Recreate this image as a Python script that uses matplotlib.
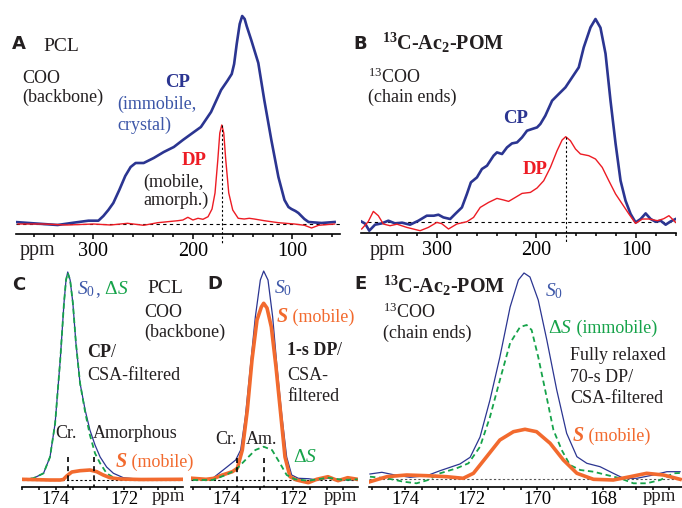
import numpy as np
import matplotlib.pyplot as plt
from matplotlib.ticker import MultipleLocator

plt.rcParams['font.family'] = ['Liberation Serif', 'DejaVu Serif']
plt.rcParams['mathtext.fontset'] = 'custom'
plt.rcParams['mathtext.rm'] = 'Liberation Serif'
plt.rcParams['mathtext.it'] = 'Liberation Serif:italic'
plt.rcParams['mathtext.bf'] = 'Liberation Serif:bold'

# ===================== data (ppm, intensity in a.u.) =====================
# A: PCL COO, wide-line CP and DP
a_cp_ppm = [378.8, 360.6, 336, 320, 305, 295, 290, 285, 280, 274, 268, 262.6, 257.6, 249.5,
            239.4, 229.3, 219.2, 210.1, 199, 192, 181.8, 171.7, 165.5, 161, 158.6, 156,
            153, 150.5, 148, 146, 141.4, 134.3, 128.3, 121.2, 114.1, 108, 104, 101, 97,
            94, 88, 83.8, 70.7, 57.6]
a_cp = [2, 0.7, -1, 1.3, 3.3, 3.3, 8, 14, 21, 34, 48, 57, 61, 61,
        66, 72, 77, 84, 92, 97, 112, 134, 143, 150, 160, 180,
        200, 208, 205, 198, 184, 161, 124, 84, 47, 24, 17, 15, 13,
        11, 5, 2, 1, 2]
a_dp_ppm = [375.8, 350.5, 326.3, 300, 282.8, 265.7, 249.5, 235.4, 225.3, 215.2, 210.1,
            205.1, 200, 194.9, 189.9, 184.8, 180.8, 177.8, 175, 173, 171, 169,
            167, 164, 160, 154.5, 148.5, 143.4, 138.4, 128.3, 114.1, 98, 87.9,
            80.8, 73.7, 57.6]
a_dp = [0, 0, -1, 0, -1, 0.7, -1.3, 1.3, 2.3, 3.3, 4,
        6.7, 4, 5.7, 4.7, 7.3, 15, 31, 64, 91, 99, 91,
        64, 31, 14, 5.7, 5, 5.7, 5, 3.3, 1.3, 0, -1.3,
        -4, -1.3, 0]

# B: 13C-Ac2-POM 13COO, wide-line CP and DP
b_cp_ppm = [377.2, 372, 367.9, 362.1, 355.4, 348.7, 342, 335, 326.9, 318.5, 310.1, 303,
            298.4, 293.4, 286.6, 281.6, 274.8, 269.8, 265.8, 259.7, 254.7, 249.6, 243,
            239.6, 234.5, 229.5, 224.5, 219.4, 214.4, 209.4, 204.3, 199.3, 196, 191,
            184.2, 177.5, 170.8, 164.1, 157.4, 152.4, 145.6, 140.6, 135.6, 130.5, 125.5,
            120.4, 115.4, 110.4, 105.3, 100.3, 95.2, 90.2, 85.2, 80.2, 75.1, 70.1, 65.1, 60]
b_cp = [1, -2, -9, -3, -1.7, 1, -1.7, -1, -3, 1, 6, 6,
        7, 4.3, 2.7, 7.7, 14.3, 27.7, 39.3, 44.3, 52.7, 56, 66,
        69.3, 67.7, 74.3, 78.3, 79.3, 84.3, 91, 92.7, 94.3, 97.7, 106,
        121, 127.7, 134.3, 144.3, 154.3, 174.3, 194.3, 202.7, 194, 168, 121,
        78, 41, 21, 7.7, -0.7, 2.7, 8.3, 2.7, 0, 1, -3, 0.3, 2.7]
b_dp_ppm = [375.5, 369, 363.8, 358.8, 353.8, 347, 340, 330.2, 316.8, 308.5, 300, 295,
            288.3, 279.9, 269.8, 263.1, 256.4, 248, 239.6, 232.9, 227.9, 221.1, 214.4,
            206, 199.3, 192.6, 185.9, 179.2, 174.1, 170.5, 165.8, 160.7, 155.7, 147.3,
            140.6, 133.8, 127.2, 120.4, 113.7, 107, 100.3, 93.5, 86.7, 78.3, 72, 66.8, 60]
b_dp = [-7.3, 0, 10.3, 6, -2.3, -4, -2.5, -5.7, -9, -5.7, -0.7, -2,
        -7.3, -2.3, 0, 4.3, 14.3, 19.3, 23.3, 21.7, 20.3, 24.3, 28.3,
        29.3, 33.7, 41, 54.3, 71, 81.7, 85, 81, 72.7, 67.7, 66,
        62.7, 54.3, 41, 27.7, 17.7, 7.7, -1.7, 2.7, 2.7, 1, 3, 6, -0.7]

# C: PCL COO, CP / CSA-filtered
c_s0_ppm = [175.0, 174.66, 174.36, 174.17, 174.02, 173.87, 173.76, 173.70, 173.65, 173.58,
            173.50, 173.41, 173.29, 173.14, 173.0, 172.85, 172.70, 172.51, 172.31,
            172.02, 171.53, 170.27]
c_s0 = [0.7, 1.7, 6.7, 23, 56.7, 120, 177, 200, 208, 200,
        177, 137, 97, 70, 50, 35, 23, 13, 6.7,
        2.3, 0.7, 0.7]
c_ds_ppm = [175.0, 174.66, 174.36, 174.17, 174.02, 173.87, 173.76, 173.70, 173.65, 173.58,
            173.50, 173.41, 173.29, 173.14, 173.0, 172.85, 172.70, 172.51, 172.27,
            171.8, 170.27]
c_ds = [0.7, 1.7, 6.7, 23, 56.7, 120, 177, 200, 207, 200,
        177, 137, 97, 68, 45, 26.7, 16.7, 6.7, 1.7,
        0.5, 0.5]
c_s_ppm = [175.0, 174.17, 173.87, 173.78, 173.68, 173.53, 173.29, 173.0, 172.80, 172.61,
           172.41, 172.12, 171.5, 170.27]
c_s = [0.7, 0, 0, 0.5, 4, 8, 9.3, 10, 8.3, 5,
       2.3, 1, 0.5, 0.7]

# D: PCL COO, 1-s DP / CSA-filtered
d_s0_ppm = [175.02, 174.62, 174.42, 174.23, 173.98, 173.73, 173.58, 173.44, 173.29, 173.14,
            172.99, 172.89, 172.76, 172.62, 172.49, 172.34, 172.20, 172.05, 171.85,
            171.55, 171.26, 170.96, 170.66, 170.37, 170.07]
d_s0 = [1.7, 0, 1.7, 6.7, 13.3, 20, 30, 63, 113, 163,
        200, 209, 200, 163, 113, 63, 23, 5, 1.7,
        1.3, 0, 1.7, 0.7, 0, 0.7]
d_s_ppm = [175.02, 174.62, 174.38, 174.13, 173.83, 173.68, 173.53, 173.38, 173.24, 173.09,
           172.96, 172.89, 172.79, 172.66, 172.52, 172.37, 172.25, 172.10, 171.90,
           171.55, 171.30, 170.96, 170.66, 170.37, 170.07]
d_s = [1.7, 0.7, 1.7, 5, 8.3, 11.7, 30, 70, 120, 160,
       173, 176.7, 172, 153, 113, 63, 23, 3.3, 0,
       -2.7, 0.7, 3.3, -0.7, 2.3, 0.7]
d_ds_ppm = [175.02, 174.42, 174.03, 173.73, 173.44, 173.14, 172.89, 172.64, 172.40, 172.20,
            171.95, 171.55, 170.96, 170.5, 170.07]
d_ds = [0, 0, 5, 10, 20, 30, 33.3, 30, 16.7, 5,
        0.7, -0.7, 2.3, 0, 0.7]

# E: 13C-Ac2-POM 13COO, 70-s DP / CSA-filtered
e_s0_ppm = [175.06, 174.70, 174.35, 173.85, 173.34, 172.94, 172.34, 172.03, 171.73, 171.43,
            171.13, 170.82, 170.57, 170.40, 170.22, 169.97, 169.71, 169.41, 169.11,
            168.80, 168.50, 168.10, 167.70, 167.39, 166.99, 166.49, 166.08, 165.68]
e_s0 = [5, 6.7, 4.3, 1.7, 3.3, 8.3, 15, 21.7, 42, 79,
        122, 172, 199, 206, 202, 179, 139, 89, 45.7,
        22.3, 15.7, 12.3, 5.7, 0.7, 0.7, 4, 7.3, 7.3]
e_ds_ppm = [175.06, 174.55, 174.05, 173.65, 173.30, 172.94, 172.44, 172.08, 171.73, 171.43,
            171.13, 170.82, 170.52, 170.32, 170.17, 169.97, 169.76, 169.51, 169.26,
            169.01, 168.70, 168.30, 167.90, 167.49, 167.09, 166.69, 166.28, 165.88, 165.68]
e_ds = [2.3, 0.7, -2.7, -4.3, -1, 5.7, 10.7, 15.7, 32.3, 62,
        99, 136, 152, 154, 149, 122, 89, 49, 29,
        14, 9, 7.3, 4, 0.7, -4.3, -4.3, -1, 5.7, 6]
e_s_ppm = [175.06, 174.55, 173.95, 173.34, 172.74, 172.24, 171.93, 171.53, 171.13, 170.72,
           170.37, 170.02, 169.61, 169.21, 168.80, 168.30, 167.70, 167.19, 166.69,
           166.18, 165.68]
e_s = [-2.7, 2.3, 4, 3.3, 2.3, 0.7, 5.7, 22.3, 39, 47.3,
       49.7, 47.3, 35.7, 19, 5.7, -0.3, -1, 2.3, 5.7,
       4, -0.3]

# ===================== styles =====================
W, H = 682, 508
NAVY = '#2b3591'
BLUE_T = '#3d57a8'
RED = '#ed1c24'
ORANGE = '#f26a2e'
GREEN = '#16a34a'
GRAY = '#231f20'
FS = 13      # body text
FS_T = 14.5  # tick labels, top row
FS_T2 = 13.5  # tick labels, bottom row

fig = plt.figure(figsize=(W / 100, H / 100), dpi=100)
renderer = fig.canvas.get_renderer()


def make_axes(xl, xr, y_spine, y_top, ppm_l, ppm_r, h_bottom):
    """axes placed in pixel units; 1 intensity unit = 1 pixel"""
    ax = fig.add_axes([xl / W, 1 - y_spine / H, (xr - xl) / W, (y_spine - y_top) / H])
    ax.set_xlim(ppm_l, ppm_r)
    ax.set_ylim(h_bottom, h_bottom + (y_spine - y_top))
    for s in ['left', 'right', 'top']:
        ax.spines[s].set_visible(False)
    ax.spines['bottom'].set_linewidth(1.2)
    ax.set_yticks([])
    ax.patch.set_alpha(0)
    return ax


def txt(x, y, s, **kw):
    kw.setdefault('color', GRAY)
    kw.setdefault('fontsize', FS)
    return fig.text(x / W, 1 - y / H, s, ha='left', va='baseline', **kw)


def txt_seq(x, y, parts, gap=0):
    """several pieces with different styles on one line"""
    for s, kw in parts:
        t = txt(x, y, s, **kw)
        x = t.get_window_extent(renderer=renderer).x1 + gap


def panel_letter(x, y, s):
    fig.text(x / W, 1 - y / H, s, ha='left', va='baseline', fontsize=13,
             fontweight='bold', family='DejaVu Sans', color=GRAY)


# ---------- A, B ----------
axA = make_axes(16, 340, 234, 5, 377.8, 52.2, -10)
axB = make_axes(360.7, 675.7, 233, 5, 376.5, 60, -11.3)
for ax in (axA, axB):
    ax.set_xticks([300, 200, 100])
    ax.xaxis.set_minor_locator(MultipleLocator(20))
    ax.tick_params(axis='x', which='major', length=3.6, width=1.1, pad=2.5, labelsize=FS_T)
    ax.tick_params(axis='x', which='minor', length=2.4, width=1.1)
    ax.axhline(0, color='k', lw=0.8, ls=(0, (3, 3)))

axA.plot(a_cp_ppm, a_cp, color=NAVY, lw=1.9)
axA.plot(a_dp_ppm, a_dp, color=RED, lw=1.0)
axA.plot([171, 171], [99, -19], color='k', lw=0.8, ls=(0, (2, 2)), clip_on=False)

axB.plot(b_cp_ppm, b_cp, color=NAVY, lw=1.9)
axB.plot(b_dp_ppm, b_dp, color=RED, lw=1.0)
axB.plot([170.5, 170.5], [85, -21], color='k', lw=0.8, ls=(0, (2, 2)), clip_on=False)

txt(20, 255, 'ppm', fontsize=FS_T)
txt(370, 255, 'ppm', fontsize=FS_T)

panel_letter(12, 49, 'A')
txt(43, 51, 'PCL', fontsize=14)
txt(22, 83, 'COO')
txt(22, 102, '(backbone)')
txt(165, 87, 'CP', fontsize=13.5, fontweight='bold', color=NAVY)
txt(117, 109, '(immobile,', color=BLUE_T)
txt(117, 130, 'crystal)', color=BLUE_T)
txt(182, 165, 'DP', fontsize=13.5, fontweight='bold', color=RED)
txt(143, 187, '(mobile,')
txt(143, 205, 'amorph.)')

panel_letter(353, 49, 'B')
txt(382, 50, r'$^{\mathbf{13}}$C-Ac$_{\mathbf{2}}$-POM', fontsize=14.5, fontweight='bold')
txt(368, 83, r'$^{13}$COO')
txt(368, 102, '(chain ends)')
txt(503, 123, 'CP', fontsize=13.5, fontweight='bold', color=NAVY)
txt(523, 174, 'DP', fontsize=13.5, fontweight='bold', color=RED)

# ---------- C, D, E ----------
axC = make_axes(21.7, 183, 487, 262, 175.0, 170.27, -7)
axD = make_axes(191, 358, 487, 262, 175.07, 170.06, -7)
axE = make_axes(369.3, 681.7, 486.7, 262, 175.08, 165.63, -7.7)
axC.set_xticks([174, 172])
axD.set_xticks([174, 172])
axE.set_xticks([174, 172, 170, 168])
for ax in (axC, axD, axE):
    ax.xaxis.set_minor_locator(MultipleLocator(0.5))
    ax.tick_params(axis='x', which='both', length=2.2, width=1.1, pad=0.6, labelsize=FS_T2)
axC.axhline(0, color='k', lw=0.8, ls=(0, (2, 2)))
axD.axhline(0, color='k', lw=0.8, ls=(0, (2, 2)))
axE.axhline(0, color='#555555', lw=0.8, ls=(0, (2, 2)))

axC.plot(c_s0_ppm, c_s0, color=NAVY, lw=0.9)
axC.plot(c_ds_ppm, c_ds, color=GREEN, lw=1.3, ls=(0, (3, 2)))
axC.plot(c_s_ppm, c_s, color=ORANGE, lw=2.6)
for p in (173.65, 172.87):
    axC.plot([p, p], [23, -7], color='k', lw=1.2, ls=(0, (3, 2.5)), clip_on=False)

axD.plot(d_s0_ppm, d_s0, color=NAVY, lw=0.9)
axD.plot(d_s_ppm, d_s, color=ORANGE, lw=2.6)
axD.plot(d_ds_ppm, d_ds, color=GREEN, lw=1.3, ls=(0, (3, 2)))
for p in (173.68, 172.87):
    axD.plot([p, p], [22, -7], color='k', lw=1.2, ls=(0, (3, 2.5)), clip_on=False)

axE.plot(e_s0_ppm, e_s0, color=NAVY, lw=0.9)
axE.plot(e_ds_ppm, e_ds, color=GREEN, lw=1.3, ls=(0, (3, 2)))
axE.plot(e_s_ppm, e_s, color=ORANGE, lw=2.6)

txt(152, 501, 'ppm', fontsize=FS_T2)
txt(324, 501, 'ppm', fontsize=FS_T2)
txt(643, 501, 'ppm', fontsize=FS_T2)

# C labels
panel_letter(12, 290, 'C')
txt_seq(77, 294, [(r'$S_0$', dict(fontsize=14, color=BLUE_T)),
                  (',', dict(fontsize=14, color=BLUE_T)),
                  (r'$\ \Delta S$', dict(fontsize=14, color=GREEN))])
txt(147, 293, 'PCL', fontsize=14)
txt(144, 317, 'COO')
txt(144, 337, '(backbone)')
txt_seq(87, 357, [('CP', dict(fontweight='bold')), ('/', {})])
txt(87, 380, 'CSA-filtered')
txt(55, 438, 'Cr.')
txt(93, 438, 'Amorphous')
txt_seq(116, 467, [('S', dict(fontsize=14.5, fontweight='bold', style='italic', color=ORANGE)),
                   (' (mobile)', dict(color=ORANGE))])

# D labels
panel_letter(207, 289, 'D')
txt(274, 293, r'$S_0$', fontsize=14, color=BLUE_T)
txt_seq(277, 322, [('S', dict(fontsize=14.5, fontweight='bold', style='italic', color=ORANGE)),
                   (' (mobile)', dict(color=ORANGE))])
txt_seq(287, 355, [('1-s DP', dict(fontweight='bold')), ('/', {})])
txt(287, 380, 'CSA-')
txt(287, 401, 'filtered')
txt(215, 444, 'Cr.')
txt(246, 444, 'Am.')
txt(293, 462, r'$\Delta S$', fontsize=14, color=GREEN)

# E labels
panel_letter(354, 289, 'E')
txt(383, 293, r'$^{\mathbf{13}}$C-Ac$_{\mathbf{2}}$-POM', fontsize=14.5, fontweight='bold')
txt(383, 318, r'$^{13}$COO')
txt(383, 338, '(chain ends)')
txt(545, 296, r'$S_0$', fontsize=14, color=BLUE_T)
txt_seq(548, 333, [(r'$\Delta S$', dict(fontsize=14, color=GREEN)),
                   (' (immobile)', dict(color=GREEN))])
txt(570, 360, 'Fully relaxed')
txt(570, 382, '70-s DP/')
txt(570, 403, 'CSA-filtered')
txt_seq(573, 441, [('S', dict(fontsize=14.5, fontweight='bold', style='italic', color=ORANGE)),
                   (' (mobile)', dict(color=ORANGE))])

fig.savefig('out.png', dpi=100)
